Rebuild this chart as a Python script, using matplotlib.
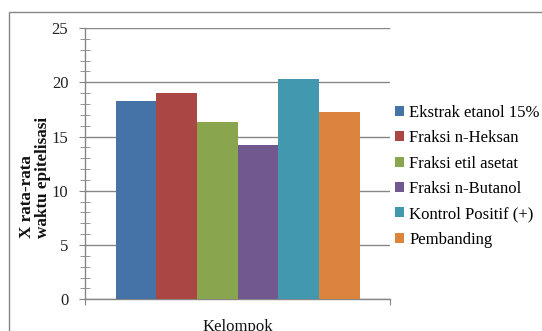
import matplotlib
matplotlib.use('Agg')
import matplotlib.pyplot as plt
from matplotlib.patches import Rectangle
from matplotlib.ticker import MultipleLocator

# Mean epithelialisation time per group.

groups = ['Ekstrak etanol 15%', 'Fraksi n-Heksan', 'Fraksi etil asetat',
          'Fraksi n-Butanol', 'Kontrol Positif (+)', 'Pembanding']
values = [18.3, 19.0, 16.3, 14.25, 20.3, 17.3]
colors = ['#4572A7', '#AA4643', '#89A54E', '#71588F', '#4198AF', '#DB843D']
y_ticks = [0, 5, 10, 15, 20, 25]

plt.rcParams['font.family'] = ['Liberation Serif', 'DejaVu Serif']
plt.rcParams['font.size'] = 12

W, H = 542, 331
fig = plt.figure(figsize=(W / 100, H / 100), dpi=100)

# outer chart frame (clipped by the image on the right and bottom)
fig.patches.append(Rectangle((9 / W, -0.2), 1.2, (H - 12) / H + 0.2,
                             transform=fig.transFigure, fill=False,
                             edgecolor='#868686', linewidth=1.0))

ax = fig.add_axes([85 / W, (H - 299.3) / H, 305 / W, 271.3 / H])

n = len(groups)
width = 0.8 / n
for i, (name, val, col) in enumerate(zip(groups, values, colors)):
    x = 0.5 + (i - (n - 1) / 2) * width
    ax.bar(x, val, width=width, color=col, label=name, zorder=3)

ax.set_xlim(0, 1)
ax.set_ylim(0, 25)
ax.set_yticks(y_ticks)
ax.yaxis.set_minor_locator(MultipleLocator(1))
ax.yaxis.grid(True, color='#868686', linewidth=1.0, zorder=0)
ax.set_xticks([0, 1])
ax.set_xticklabels(['', ''])

for side in ['top', 'right']:
    ax.spines[side].set_visible(False)
for side in ['left', 'bottom']:
    ax.spines[side].set_color('#868686')
    ax.spines[side].set_linewidth(1.0)

ax.tick_params(axis='y', which='major', direction='out', length=4,
               color='#868686', labelcolor='#222222', pad=8)
ax.tick_params(axis='y', which='minor', direction='inout', length=7,
               color='#868686')
ax.tick_params(axis='x', which='major', direction='out', length=4,
               color='#868686')

fig.text(237.5 / W, (H - 331) / H, 'Kelompok', ha='center', va='baseline',
         fontsize=12, color='#111111')
fig.text(35 / W, (H - 238) / H, 'X rata-rata\nwaktu epitelisasi',
         rotation=90, ha='center', va='bottom', multialignment='left',
         fontsize=12.3, fontweight='bold', linespacing=1.05,
         color='#111111')

fig.legend(loc='upper left', bbox_to_anchor=(395 / W, (H - 105) / H),
           frameon=False, handlelength=0.55, handleheight=0.55,
           handletextpad=0.3, labelspacing=0.56, borderaxespad=0,
           borderpad=0, fontsize=12)

fig.savefig('out.png', dpi=100)
